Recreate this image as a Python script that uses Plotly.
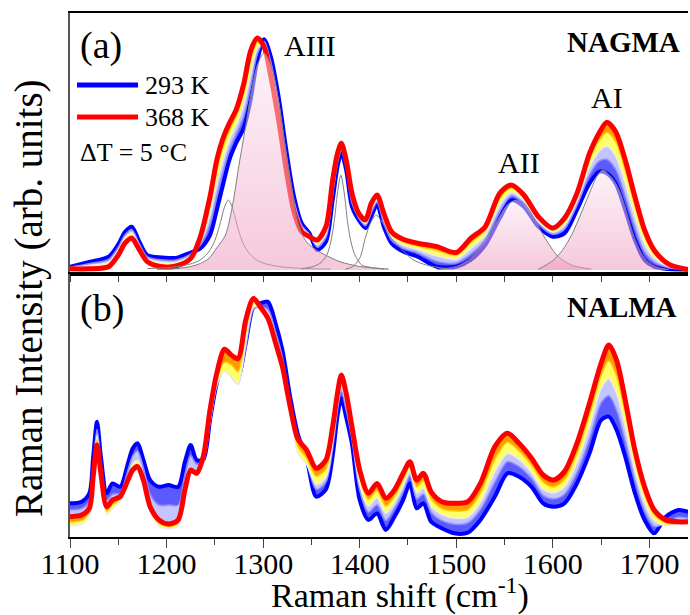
import plotly.graph_objects as go

# ---------------- data ----------------
temps = [293, 313, 333, 353, 368]

# Panel (a) NAGMA
xa = [1100,1120,1140,1150,1157,1164,1171,1180,1195,1210,1225,1235,1245,1252,1258,1265,1272,1280,1287,1294,
      1301,1308,1316,1324,1332,1340,1348,1356,1365,1372,1377,1381,1386,1392,1399,1406,1412,1418,1425,1433,
      1445,1460,1480,1500,1515,1530,1545,1557,1570,1585,1600,1612,1625,1638,1648,1656,1665,1675,1685,1695,
      1705,1720,1740]
a293 = [1.4,3.5,5.7,11,16.4,18.6,12.9,6.4,5.4,5.2,7.5,9.3,15,25.8,35.8,47.2,54.4,61,73,90,
        99,91.5,74.4,51.5,31.5,20,15.7,8.6,12.1,30,44.3,50.2,42.9,27.2,21.5,18,23,28,18.6,11.5,
        7.9,5.7,1.4,1.4,4.3,10.7,22.2,30,27.2,18.6,14.3,15.7,25.8,37.2,42.2,41.5,37.2,25.8,12.9,4.3,
        1.4,0.4,0.2]
a313 = [1.2,2.7,4.5,9.8,15.1,17.3,11.9,5.6,4.3,4.3,6.8,10.7,19.5,31.6,41.3,51.5,58.3,66.1,78.7,92.6,
        98.1,89.2,71.7,49.2,29.7,19,15.3,9.8,13.9,32.3,45.8,51.3,44,28.7,22.3,19,24.5,29.1,20.1,12.8,
        9.3,7.3,3.7,3.0,6.8,12.8,25.1,31.8,28.5,19.8,15.3,17.5,27.7,40.7,46.7,47.4,43.2,31.6,18.1,7.7,
        3.3,1.0,0.2]
a333 = [0.9,1.9,3.4,8.6,13.8,16,11,4.9,3.3,3.3,6.2,12,23.7,37.1,46.5,55.6,62,71.1,84.1,95.1,
        97.3,87,69.1,46.9,28.1,18.1,15,10.9,15.5,34.6,47.3,52.4,45.2,30.2,23,19.9,26,30.2,21.6,14.1,
        10.7,8.8,6,4.6,9.2,14.9,27.9,33.4,29.9,20.9,16.3,19.1,29.6,44,51,53.1,49,37.1,22.8,11.1,
        5.2,1.5,0.2]
a353 = [0.7,1.1,2.3,7.3,12.5,14.6,10,4.2,2.2,2.4,5.5,13.3,28.2,42.9,52,59.8,65.8,76.2,89.8,97.7,
        96.4,84.7,66.4,44.6,26.3,17.1,14.6,12,17.3,36.9,48.9,53.6,46.3,31.8,23.7,20.8,27.5,31.4,23.2,15.4,
        12.1,10.3,8.3,6.3,11.7,17,30.8,35.2,31.2,22,17.3,20.9,31.5,47.4,55.5,59,55,42.9,27.8,14.6,
        7.1,2.1,0.2]
a368 = [0.5,0.5,1.4,6.4,11.5,13.6,9.3,3.6,1.4,1.7,5,14.3,31.5,47.2,56,63,68.7,80,94,99.6,
        95.8,83,64.4,42.9,25,16.4,14.3,12.9,18.6,38.6,50,54.4,47.2,32.9,24.3,21.5,28.6,32.2,24.3,16.4,
        13.2,11.5,10,7.5,13.6,18.6,32.9,36.5,32.2,22.9,18,22.2,32.9,50,58.8,63.4,59.4,47.2,31.5,17.2,
        8.5,2.5,0.2]

# Fitted components of panel (a)
c1265_x = [1180,1200,1215,1225,1234,1242,1248,1252,1256,1260,1264,1268,1272,1276,1280,1286,1294,1304,1320,1345,1370]
c1265_y = [0.6,1.0,1.7,2.6,4.1,6.9,10.8,15,20.8,27,30,27,20.8,15,10.8,6.9,4.1,2.5,1.3,0.6,0.35]
aIII_x = [1190,1210,1225,1235,1244,1252,1261,1268,1275,1282,1288,1294,1301,1308,1315,1322,1330,1337,1345,1355,1365,1380,1400,1430]
aIII_y = [0.3,0.6,1.5,2.8,5,9.5,15,27,45,62,77,88,93.1,88,75,55,34,19,12,8.6,6.3,3.5,1.5,0.4]
c1380_x = [1340,1352,1360,1366,1370,1373.5,1377,1380.5,1384,1387.5,1391,1395,1402,1410,1425]
c1380_y = [0.5,1.5,3.2,6.5,12,20.4,33,40.8,33,20.4,12,6.5,2.2,1.2,0.4]
c1418_x = [1385,1393,1400,1406,1411,1417,1424,1432,1441,1455,1470,1490]
c1418_y = [0.3,1.5,5,14,20,23.6,20,14,10,4.5,2,0.6]
aII_x = [1480,1500,1515,1525,1534,1545,1553,1562,1571,1580,1588,1596,1605,1620,1640]
aII_y = [0.3,1.5,5,10,15.5,23,28,30,28,22.5,16.5,11,6,2,0.4]
aI_x = [1585,1600,1610,1620,1630,1640,1646,1652,1658,1664,1670,1677,1683,1690,1697,1708,1720]
aI_y = [0.3,4,8.5,15.5,25,35,40.5,42.9,41,38,33,24,15.5,8.5,4,1.2,0.2]

# Panel (b) NALMA
xb = [1100,1112,1120,1124,1128,1132,1138,1144,1152,1160,1165,1170,1176,1183,1192,1202,1212,1219,1225,1231,
      1238,1245,1252,1260,1267,1274,1282,1290,1297,1305,1313,1320,1328,1336,1345,1355,1365,1372,1377,1381,
      1386,1392,1400,1409,1418,1427,1436,1445,1452,1459,1466,1474,1485,1498,1512,1525,1540,1553,1565,1578,
      1590,1601,1612,1625,1638,1650,1658,1666,1675,1685,1695,1705,1717,1730,1740]
b293 = [13.2,13.9,17.4,32.6,47.2,32.6,17.4,21.5,20.1,29.9,36.1,38.2,31.3,22.9,20.1,20.8,20.1,30.5,37.5,31.3,
        31.3,47.9,63.2,73,70,66,80,95,96.5,97.2,88,77,57.6,42,32,16,19,33,49.5,57,
        49,38,14.6,6.3,9,2.1,7.6,14.6,21.5,11.1,13.2,5.5,2.8,0.7,1,6.3,16,25.7,24.3,20.1,
        13.2,11.8,13.2,21.5,34,47.9,49.3,43.8,32.6,17.4,6.3,0.7,7.6,10.4,9.7]
b313 = [10.5,11,14,29,44,30,14.5,17,17.5,27,33,35,28,17,12.5,12.5,12.5,25,33,29.5,
        31,47,62,68.5,66,63,78,94,95,94,84.5,74,55.5,37,30,19,22,36,52,60,
        52,40,18.5,9.5,12.5,6,11,18,24.5,15,17,9.5,6,4.5,5,10.5,22,30.5,28.5,23.5,
        16.5,15,17,26,40,55,58,52,39,22.5,10,3.5,5,7.5,7]
b333 = [4,4.5,8,24,41.5,26,8.5,11,14,22.5,29.5,31,24,10,3.8,2.6,3.8,16,27,25,
        30,47,62.5,68,66,63,80,95,95,92.5,82.5,72,54,34,29.5,21,24,38.5,54,62,
        54.5,41.5,21,12,15.5,9,13.5,20.5,26.5,17.5,19.5,12,8.5,7,7.5,13.5,26.5,34,31.5,26,
        19,17.5,20,30,45,61,65,59,45,27,13.5,6,4,5,5]
b353 = [5.5,6,9.5,24,39.5,25,10,12.5,15,22,28,29.5,23,11,5,3.5,5,17.5,26.5,25,
        31,49,65,72,71,68,85,97,95,91,81,71,53.5,37,32,24.5,27.5,42,56.5,64.5,
        57,43.5,24.5,14.8,18.5,12,16,23,28.5,20,22.5,15,11,10,10.5,17.5,31.5,38.5,35,29,
        22,20,23,34,50,66.5,72.5,66,51,31.5,17,8.5,5,4.8,5]
b368 = [7.6,8.3,11.1,24.3,37.5,25.7,11.8,14.6,16,22.9,27.1,28.5,22.9,11.8,6.3,4.6,6.3,18.8,27.1,25.7,
        32.6,52.1,67.4,77.4,75,73.5,89.6,98.6,95.1,90.3,79.9,70.1,53.5,40,35.4,27.8,31.3,45.1,59,66.7,
        59,45.1,27.1,17.4,21.5,15.3,18.8,25.7,30.5,22.9,25.7,18,13.9,13.2,13.9,21.5,36.8,42.4,38.2,32,
        25,22.9,26.4,38.2,54.9,71.5,79.2,72.9,56.3,35.4,20.1,10.4,6.3,5.5,5.5]

xticks = [1100, 1200, 1300, 1400, 1500, 1600, 1700]

# ---------------- styling ----------------
FONT = '"Liberation Serif", "Times New Roman", Times, serif'
W, H = 690, 615
ML, MR, MT, MB = 70, 2, 13, 78
PW, PH = W - ML - MR, H - MT - MB
SPLIT = 274  # px boundary between panels


def px(xp):
    return (xp - ML) / PW


def py(yp):
    return (H - MB - yp) / PH


line_cols = ['#0000ff', '#8c8cff', '#ecece0', '#ffd000', '#ff0000']
band_cols = [None, '#5a5aff', '#c4c4ff', '#ffff6a', '#ff9a00']
line_w = [4, 1.5, 1.5, 1.5, 5]

fig = go.Figure()

for xs, series, xref, yref in [(xa, [a293, a313, a333, a353, a368], 'x', 'y'),
                               (xb, [b293, b313, b333, b353, b368], 'x2', 'y2')]:
    for i, (t, ys) in enumerate(zip(temps, series)):
        fig.add_trace(go.Scatter(
            x=xs, y=ys, mode='lines', xaxis=xref, yaxis=yref,
            line=dict(color=line_cols[i], width=line_w[i], shape='spline', smoothing=0.8),
            fill=None if i == 0 else 'tonexty',
            fillcolor=band_cols[i], name=f'{t} K', hoverinfo='skip'))

    if xref == 'x':
        filled = {'aIII', 'aII', 'aI'}
        comps = [('c1265', c1265_x, c1265_y), ('aIII', aIII_x, aIII_y), ('c1380', c1380_x, c1380_y),
                 ('c1418', c1418_x, c1418_y), ('aII', aII_x, aII_y), ('aI', aI_x, aI_y)]
        for name, cx, cy in comps:
            kw = {}
            if name in filled:
                kw = dict(fill='tozeroy',
                          fillgradient=dict(type='vertical',
                                            colorscale=[[0, 'rgba(237,155,191,0.55)'],
                                                        [1, 'rgba(251,228,238,0.5)']]))
            fig.add_trace(go.Scatter(
                x=cx, y=cy, mode='lines', xaxis='x', yaxis='y',
                line=dict(color='#7f7f7f', width=1, shape='spline', smoothing=0.8),
                hoverinfo='skip', name=name, **kw))

axis_common = dict(showgrid=False, zeroline=False, linecolor='black', linewidth=1.5)
dom_split = py(SPLIT)

fig.update_layout(
    width=W, height=H, margin=dict(l=ML, r=MR, t=MT, b=MB),
    paper_bgcolor='white', plot_bgcolor='white', showlegend=False,
    font=dict(family=FONT, color='black'),
    xaxis=dict(domain=[0, 1], anchor='y', range=[1100, 1740], matches='x2',
               showline=True, mirror=True, ticks='outside', ticklen=6, tickwidth=1.3,
               tickvals=xticks, showticklabels=False,
               minor=dict(ticks='outside', ticklen=6, dtick=50, tick0=1100, tickwidth=1.3),
               **axis_common),
    yaxis=dict(domain=[dom_split, 1], anchor='x', range=[-1.72, 110.3],
               showline=True, ticks='', showticklabels=False,
               **{**axis_common, 'linecolor': '#555555'}),
    xaxis2=dict(domain=[0, 1], anchor='y2', range=[1100, 1740],
                showline=True, mirror=True, ticks='outside', ticklen=9, tickwidth=1.3,
                tickvals=xticks, ticktext=[str(v) for v in xticks],
                tickfont=dict(family=FONT, size=30, color='black'),
                ticklabelstandoff=-10,
                minor=dict(ticks='outside', ticklen=6, dtick=50, tick0=1100, tickwidth=1.3),
                **axis_common),
    yaxis2=dict(domain=[0, dom_split], anchor='x2', range=[-0.83, 108.75],
                showline=True, ticks='', showticklabels=False,
                **{**axis_common, 'linecolor': '#555555'}),
)

ann = []


def add_text(text, xp, yp, size, xanchor='center', bold=False, angle=0):
    ann.append(dict(text=f'<b>{text}</b>' if bold else text, x=px(xp), y=py(yp),
                    xref='paper', yref='paper', xanchor=xanchor, yanchor='middle',
                    showarrow=False, textangle=angle,
                    font=dict(family=FONT, size=size, color='black')))


add_text('Raman Intensity (arb. units)', 29, 298, 39, angle=-90)
add_text('Raman shift (cm<sup>-1</sup>)', 400, 593, 34)
add_text('(a)', 78, 45, 38, xanchor='left')
add_text('(b)', 78, 308, 38, xanchor='left')
add_text('NAGMA', 623, 42, 29, bold=True)
add_text('NALMA', 622, 307, 29, bold=True)
add_text('AIII', 310, 46, 30)
add_text('AII', 519, 162, 30)
add_text('AI', 607, 97, 30)
add_text('293 K', 143, 85, 26, xanchor='left')
add_text('368 K', 143, 117, 26, xanchor='left')
add_text('ΔT = 5 °C', 78, 152, 26, xanchor='left')

shapes = [
    dict(type='line', xref='paper', yref='paper', x0=px(77), x1=px(138), y0=py(85), y1=py(85),
         line=dict(color='#0000ff', width=5)),
    dict(type='line', xref='paper', yref='paper', x0=px(77), x1=px(138), y0=py(117), y1=py(117),
         line=dict(color='#ff0000', width=5)),
]

fig.update_layout(annotations=ann, shapes=shapes)
fig.write_html('out.html')
